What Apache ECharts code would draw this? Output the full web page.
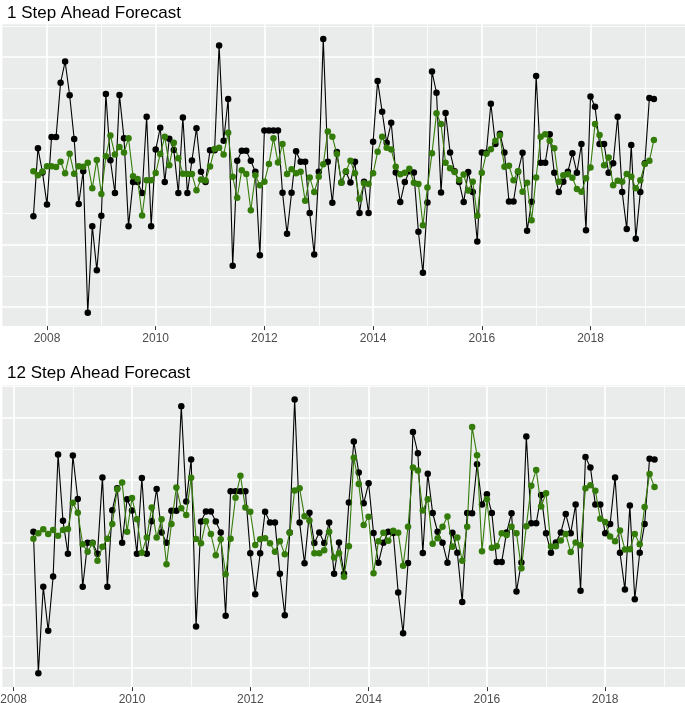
<!DOCTYPE html>
<html>
<head>
<meta charset="utf-8">
<script src="https://cdn.jsdelivr.net/npm/echarts@6/dist/echarts.min.js"></script>
<style>
  html, body { margin: 0; background: #fff; }
  #chart { width: 685px; height: 703px; }
</style>
</head>
<body>
<div id="chart"></div>
<script>
// observed series (black), monthly from Oct 2007
const actual = [
  -1.09, 1.08, 0.31, -0.72, 1.44, 1.44, 3.18, 3.86, 2.78, 1.38, -0.70, 0.35,
  -4.18, -1.41, -2.82, -1.08, 2.82, 0.70, -0.35, 2.79, 1.40, -1.41, 0.00, 0.00,
  -0.35, 2.09, -1.41, 1.04, 1.74, 0.00, 1.39, 1.03, -0.35, 2.07, -0.35, 0.69,
  1.72, 0.33, 0.00, 1.02, 1.02, 4.37, 1.32, 2.66, -2.68, 0.68, 1.00, 1.00,
  0.68, 0.33, -2.34, 1.65, 1.65, 1.65, 1.65, -0.34, -1.65, -0.34, 0.99, 0.65,
  0.65, -0.99, -2.32, 0.33, 4.58, 0.65, -0.66, 0.96, -0.01, 0.33, -0.01, 0.65,
  -0.99, 0.01, -0.99, 1.29, 3.24, 2.25, 1.26, 1.90, 0.31, -0.64, 0.00, 0.35,
  0.31, -1.59, -2.90, -0.65, 3.54, 2.86, -0.33, 2.21, 0.95, 0.35, 0.00, -0.64,
  0.32, -0.32, -1.90, 0.95, 0.94, 2.51, 1.22, 1.55, 0.95, -0.62, -0.62, 0.33,
  0.94, -1.56, -0.63, 3.40, 0.62, 0.62, 1.53, 0.30, -0.32, 0.01, 0.33, 0.92,
  0.30, 1.22, -1.54, 2.74, 2.41, 1.22, 1.22, 0.30, 0.60, 2.09, -0.32, -1.50,
  1.19, -1.81, -0.32, 0.60, 2.69, 2.66
];

// 1 step ahead forecast (green), same months as actual
const oneStep = [
  0.35, 0.22, 0.34, 0.51, 0.51, 0.48, 0.65, 0.28, 0.91, 0.27, 0.51, 0.49,
  0.62, -0.20, 0.71, -0.38, 0.83, 1.49, 0.88, 1.12, 0.95, 1.40, 0.19, 0.10,
  -1.07, 0.06, 0.06, 0.29, 0.90, 1.45, 0.54, 1.26, 0.76, 0.27, 0.26, 0.26,
  -0.26, 0.08, 0.05, 0.50, 1.06, 1.10, 0.88, 1.58, 0.17, -0.50, 0.38, 0.26,
  -0.90, 0.22, -0.10, 0.01, 0.58, 1.40, 0.63, 1.22, 0.26, 0.41, 0.28, 0.33,
  -0.60, 0.15, -0.32, 0.17, 0.57, 1.62, 1.45, 0.90, -0.02, 0.35, 0.68, 0.28,
  -0.54, -0.04, -0.06, 0.28, 0.97, 1.45, 1.10, 1.04, 0.49, 0.25, 0.30, 0.43,
  -0.02, -0.06, -1.38, -0.17, 0.92, 2.20, 1.86, 0.62, 0.44, 0.32, 0.07, 0.24,
  -0.27, 0.01, -1.08, 0.30, 0.91, 1.05, 1.32, 1.50, 0.49, 0.52, 0.06, 0.35,
  -0.31, -0.02, -1.22, 0.15, 1.45, 1.53, 1.32, 1.08, 0.01, 0.22, 0.25, 0.14,
  -0.22, -0.31, 0.12, 0.47, 1.86, 1.51, 0.54, 0.79, -0.10, 0.04, 0.01, 0.26,
  0.17, -0.20, 0.06, 0.58, 0.68, 1.35
];

// 12 step ahead forecast (green), drawn from May 2008
const twelveStep = [
  0.13, 0.30, 0.43, 0.28, 0.41, 0.22, 0.41, 0.44, 1.28, 0.96, -0.05, -0.29,
  -0.02, -0.58, -0.13, 0.13, 0.60, 1.71, 1.93, 0.35, 1.43, 0.75, -0.32, 0.17,
  1.13, 0.17, 0.75, -0.69, 0.60, 1.77, 1.10, 0.89, 2.08, 0.12, -0.02, 0.69,
  0.28, -0.40, 0.11, -1.01, 0.13, 1.44, 2.14, 1.13, 0.99, -0.07, 0.11, 0.14,
  -0.02, -0.29, 0.05, -0.37, 0.32, 1.67, 1.74, 0.85, 0.71, -0.34, -0.34, -0.24,
  0.35, -0.47, -0.34, -1.09, -0.11, 2.72, 1.88, 0.57, 0.83, -0.98, 0.05, 0.32,
  0.06, 0.38, 0.32, -0.74, 0.51, 2.41, 2.31, 1.03, 1.39, -0.03, 0.14, 0.51,
  0.84, -0.13, 0.17, -0.58, 0.51, 3.70, 2.80, -0.27, 1.39, -0.16, -0.11, 0.30,
  0.25, 0.51, 0.30, -0.82, 0.53, 1.82, 2.33, 1.16, 1.58, -0.12, -0.11, 0.07,
  0.28, -0.30, 0.01, -0.08, 1.74, 1.84, 1.66, 0.77, 0.66, 0.20, 0.05, 0.39,
  -0.22, -0.21, 0.28, -0.05, 1.14, 2.20, 1.78
];

const titles = ['1 Step Ahead Forecast', '12 Step Ahead Forecast'];
const oneStepStart = 2007 + 9 / 12;
const twelveStepStart = 2008 + 4 / 12;
const twelveStepSkip = 11; // first actual month shown in the lower panel

const BLACK = '#000000';
const GREEN = '#347c0a';
const PANEL = '#e9ecea';
const FONT = 'Liberation Sans, Arial, sans-serif';

// pixel layout of the two ggplot panels
const panels = [
  { top: 24.3, bottom: 326.1, zeroY: 182.1, unit: 31.24, x2008: 47.0, perYear: 54.35, titleTop: 0 },
  { top: 385.5, bottom: 687.1, zeroY: 542.7, unit: 31.25, x2008: 13.7, perYear: 59.15, titleTop: 360 }
];

const toPairs = (start, values) => values.map((v, i) => [start + i / 12, v]);

const grids = [], xAxes = [], yAxes = [], titleList = [];
panels.forEach((p, k) => {
  const left = p.x2008 - 2 * p.perYear;
  const width = 14 * p.perYear;
  // panel background
  grids.push({ left: 2.4, width: 682.6, top: p.top, height: p.bottom - p.top,
    outerBoundsMode: 'none', show: true, backgroundColor: PANEL, borderWidth: 0 });
  xAxes.push({ gridIndex: 3 * k, type: 'value', show: false, min: 0, max: 1 });
  yAxes.push({ gridIndex: 3 * k, type: 'value', show: false, min: 0, max: 1 });
  // vertical grid lines + year labels
  grids.push({ left: left, width: width, top: p.top, height: p.bottom - p.top, outerBoundsMode: 'none' });
  xAxes.push({
    gridIndex: 3 * k + 1, type: 'value', min: 2006, max: 2020, interval: 2,
    axisLine: { show: false },
    axisTick: { show: true, length: 4, lineStyle: { color: '#333333', width: 1 } },
    axisLabel: { color: '#4d4d4d', fontSize: 12, fontFamily: FONT, margin: 7,
      formatter: v => String(v) },
    splitLine: { show: true, lineStyle: { color: '#ffffff', width: 1.7 } },
    minorTick: { show: false, splitNumber: 2 },
    minorSplitLine: { show: true, lineStyle: { color: '#ffffff', width: 0.8 } }
  });
  yAxes.push({ gridIndex: 3 * k + 1, type: 'value', show: false, min: 0, max: 1 });
  // data grid with horizontal lines
  grids.push({ left: left, width: width, top: p.zeroY - 6 * p.unit, height: 10 * p.unit, outerBoundsMode: 'none' });
  xAxes.push({ gridIndex: 3 * k + 2, type: 'value', show: false, min: 2006, max: 2020 });
  yAxes.push({
    gridIndex: 3 * k + 2, type: 'value', min: -4, max: 6, interval: 2,
    axisLine: { show: false }, axisTick: { show: false }, axisLabel: { show: false },
    splitLine: { show: true, lineStyle: { color: '#ffffff', width: 1.7 } },
    minorTick: { show: false, splitNumber: 2 },
    minorSplitLine: { show: true, lineStyle: { color: '#ffffff', width: 0.8 } }
  });
  titleList.push({
    text: titles[k], left: 2, top: p.titleTop,
    textStyle: { fontFamily: FONT, fontSize: 17, fontWeight: 'normal', color: '#000' }
  });
});

const lineSeries = (axis, data, color, z) => ({
  type: 'line', xAxisIndex: axis, yAxisIndex: axis, data: data,
  symbol: 'circle', symbolSize: 6.5, showSymbol: true, clip: false, silent: true, z: z,
  lineStyle: { color: color, width: 1.1 },
  itemStyle: { color: color, borderWidth: 0 }
});

const chart = echarts.init(document.getElementById('chart'));
chart.setOption({
  animation: false,
  backgroundColor: '#ffffff',
  title: titleList,
  grid: grids,
  xAxis: xAxes,
  yAxis: yAxes,
  series: [
    lineSeries(2, toPairs(oneStepStart, actual), BLACK, 3),
    lineSeries(2, toPairs(oneStepStart, oneStep), GREEN, 4),
    lineSeries(5, toPairs(twelveStepStart, actual.slice(twelveStepSkip)), BLACK, 3),
    lineSeries(5, toPairs(twelveStepStart, twelveStep), GREEN, 4)
  ]
});
</script>
</body>
</html>
